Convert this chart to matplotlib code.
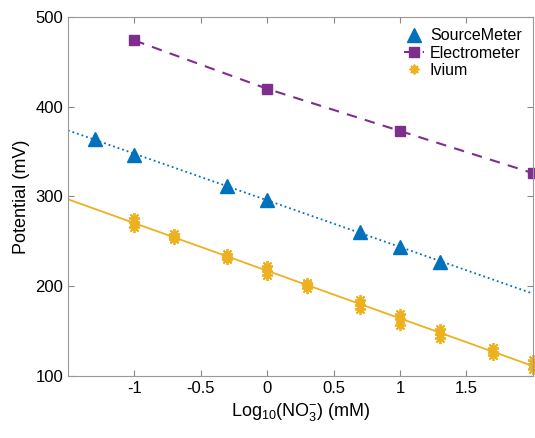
import numpy as np
import matplotlib.pyplot as plt

plt.rcParams['font.family'] = ['Liberation Sans', 'DejaVu Sans']
plt.rcParams['mathtext.default'] = 'regular'

# SourceMeter
x_sm = [-1.3, -1.0, -0.3, 0.0, 0.7, 1.0, 1.3]
y_sm = [364, 346, 312, 296, 260, 244, 227]
# Electrometer
x_em = [-1.0, 0.0, 1.0, 2.0]
y_em = [474, 420, 373, 326]
# Ivium (repeat measurements)
x_iv = [-1.0, -0.7, -0.3, 0.0, 0.3, 0.7, 1.0, 1.3, 1.7, 2.0]
y_iv1 = [276, 258, 236, 222, 204, 184, 169, 152, 131, 118]
y_iv2 = [271, 255, 233, 217, 201, 179, 163, 147, 127, 113]
y_iv3 = [266, 252, 230, 212, 198, 174, 157, 142, 123, 108]

xticks = [-1, -0.5, 0, 0.5, 1, 1.5]
xticklabels = ['-1', '-0.5', '0', '0.5', '1', '1.5']
yticks = [100, 200, 300, 400, 500]

c_blue = '#0072BD'
c_purple = '#7E2F8E'
c_yellow = '#EDB120'

fig = plt.figure(figsize=(5.35, 4.38), dpi=100)
ax = fig.add_axes([0.127, 0.142, 0.869, 0.819])

xx = np.array([-1.5, 2.0])
p_sm = np.polyfit(x_sm, y_sm, 1)
ax.plot(xx, np.polyval(p_sm, xx), ':', color=c_blue, lw=1.3)
x_all = np.tile(x_iv, 3)
y_all = np.concatenate([y_iv1, y_iv2, y_iv3])
p_iv = np.polyfit(x_all, y_all, 1)
ax.plot(xx, np.polyval(p_iv, xx), '-', color=c_yellow, lw=1.3)

ax.plot(x_sm, y_sm, '^', color=c_blue, ms=10, label='SourceMeter', clip_on=False)
ax.plot(x_em, y_em, '--s', color=c_purple, mfc=c_purple, ms=7, lw=1.5,
        dashes=(5, 4), label='Electrometer', clip_on=False)
for i, yv in enumerate([y_iv1, y_iv2, y_iv3]):
    ax.plot(x_iv, yv, ls='none', marker=(8, 2, 0), color=c_yellow, ms=8, mew=1.3,
            label='Ivium' if i == 0 else None, clip_on=False)

ax.set_xlim(-1.5, 2)
ax.set_ylim(100, 500)
ax.set_xticks(xticks)
ax.set_xticklabels(xticklabels)
ax.set_yticks(yticks)
ax.tick_params(direction='in', labelsize=12, color='#888888', top=True, right=True, length=4)
for s in ax.spines.values():
    s.set_color('#999999')
ax.set_xlabel(r'Log$_{10}$(NO$_3^{-}$) (mM)', fontsize=13)
ax.set_ylabel('Potential (mV)', fontsize=13)

leg = ax.legend(loc='upper right', frameon=False, fontsize=11.5, handlelength=1.2,
                handletextpad=0.4, borderaxespad=0.3, labelspacing=0.15)
leg.legend_handles[2].set_markersize(7)

fig.savefig('out.png', dpi=100)
